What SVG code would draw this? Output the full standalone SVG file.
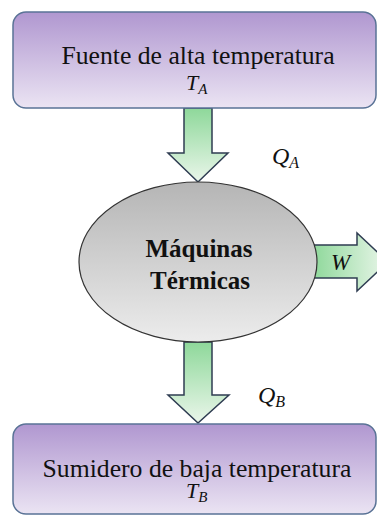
<svg xmlns="http://www.w3.org/2000/svg" width="377" height="516" viewBox="0 0 377 516">
<defs>
<linearGradient id="gBox" x1="0" y1="0" x2="0" y2="1">
<stop offset="0" stop-color="#b097d0"/>
<stop offset="1" stop-color="#ebe4f3"/>
</linearGradient>
<linearGradient id="gArrV" x1="0" y1="0" x2="0" y2="1">
<stop offset="0" stop-color="#8ed89a"/>
<stop offset="1" stop-color="#eaf6ea"/>
</linearGradient>
<linearGradient id="gArrH" x1="0" y1="0" x2="1" y2="0">
<stop offset="0" stop-color="#8ed89a"/>
<stop offset="1" stop-color="#eaf6ea"/>
</linearGradient>
<linearGradient id="gEll" x1="0" y1="0" x2="0" y2="1">
<stop offset="0" stop-color="#b5b5b5"/>
<stop offset="1" stop-color="#ececec"/>
</linearGradient>
</defs>
<style>
.box{fill:url(#gBox);stroke:#5a7396;stroke-width:1.5}
.arr{stroke:#2f3d52;stroke-width:1.5;stroke-linejoin:miter}
text{font-family:'Liberation Serif','DejaVu Serif','Times New Roman',serif;fill:#111}
.m{font-style:italic}
.b{font-weight:bold}
</style>
<g id="connectors">
<path class="arr" fill="url(#gArrV)" d="M184,108 L212,108 L212,153 L228,153 L198,182 L168,153 L184,153 Z"/>
<path class="arr" fill="url(#gArrV)" d="M184,342 L212,342 L212,395 L229,395 L198,423 L168,395 L184,395 Z"/>
<path class="arr" fill="url(#gArrH)" d="M312,245 L357,245 L357,233 L388,262 L357,291 L357,278 L312,278 Z"/>
<text class="m" x="272" y="164" font-size="24">Q<tspan font-size="16" dy="4">A</tspan></text>
<text class="m" x="258" y="403" font-size="24">Q<tspan font-size="16" dy="4">B</tspan></text>
<text class="m" x="331" y="270" font-size="23">W</text>
</g>
<g id="fuente">
<rect class="box" x="13" y="12" width="363" height="96" rx="13"/>
<text x="198" y="64" font-size="25.7" text-anchor="middle">Fuente de alta temperatura</text>
<text class="m" x="186" y="90" font-size="22">T<tspan font-size="15" dy="4">A</tspan></text>
</g>
<g id="maquinas">
<ellipse cx="198" cy="262" rx="119" ry="80" fill="url(#gEll)" stroke="#333" stroke-width="1.2"/>
<text class="b" x="199" y="257" font-size="25" text-anchor="middle">Máquinas</text>
<text class="b" x="200" y="289" font-size="25" text-anchor="middle">Térmicas</text>
</g>
<g id="sumidero">
<rect class="box" x="13" y="424" width="363" height="90" rx="13"/>
<text x="197" y="477" font-size="25.7" text-anchor="middle">Sumidero de baja temperatura</text>
<text class="m" x="186" y="498" font-size="22">T<tspan font-size="15" dy="4">B</tspan></text>
</g>
</svg>
